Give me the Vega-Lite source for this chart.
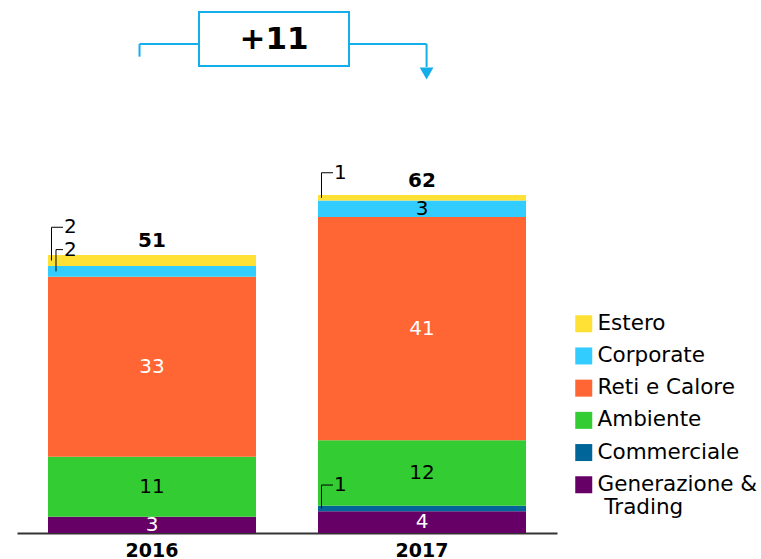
{
  "$schema": "https://vega.github.io/schema/vega-lite/v6.json",
  "width": 540,
  "height": 533,
  "autosize": "none",
  "padding": {"left": 17, "top": 0, "right": 204, "bottom": 26},
  "background": "white",
  "config": {
    "view": {"stroke": null},
    "font": "DejaVu Sans",
    "axis": {"grid": false}
  },
  "datasets": {
    "seg": [
      {"year": "2016", "segment": "Generazione & Trading", "ord": 1, "value": 3},
      {"year": "2016", "segment": "Commerciale", "ord": 2, "value": 0},
      {"year": "2016", "segment": "Ambiente", "ord": 3, "value": 11},
      {"year": "2016", "segment": "Reti e Calore", "ord": 4, "value": 33},
      {"year": "2016", "segment": "Corporate", "ord": 5, "value": 2},
      {"year": "2016", "segment": "Estero", "ord": 6, "value": 2},
      {"year": "2017", "segment": "Generazione & Trading", "ord": 1, "value": 4},
      {"year": "2017", "segment": "Commerciale", "ord": 2, "value": 1},
      {"year": "2017", "segment": "Ambiente", "ord": 3, "value": 12},
      {"year": "2017", "segment": "Reti e Calore", "ord": 4, "value": 41},
      {"year": "2017", "segment": "Corporate", "ord": 5, "value": 3},
      {"year": "2017", "segment": "Estero", "ord": 6, "value": 1}
    ],
    "totals": [
      {"year": "2016", "total": 51},
      {"year": "2017", "total": 62}
    ],
    "callouts": [
      {"year": "2016", "segment": "Estero", "label": "2", "label_y": 56.1, "seg_mid": 50},
      {"year": "2016", "segment": "Corporate", "label": "2", "label_y": 52.0, "seg_mid": 48},
      {"year": "2017", "segment": "Estero", "label": "1", "label_y": 66.1, "seg_mid": 61.5},
      {"year": "2017", "segment": "Commerciale", "label": "1", "label_y": 8.8, "seg_mid": 4.5}
    ],
    "delta": [
      {"from": "2016", "to": "2017", "label": "+11"}
    ]
  },
  "encoding": {
    "x": {
      "field": "year",
      "type": "nominal",
      "scale": {"paddingInner": 0.2296, "paddingOuter": 0.1148},
      "axis": {
        "title": null,
        "labelAngle": 0,
        "labelFont": "DejaVu Sans",
        "labelFontWeight": "bold",
        "labelFontSize": 19,
        "labelColor": "#000000",
        "labelPadding": 8,
        "ticks": false,
        "domainColor": "#333333",
        "domainWidth": 2
      }
    }
  },
  "layer": [
    {
      "data": {"name": "seg"},
      "mark": {"type": "bar", "strokeWidth": 0},
      "encoding": {
        "y": {
          "field": "value",
          "type": "quantitative",
          "stack": "zero",
          "scale": {"domain": [0, 97.8], "nice": false, "zero": true},
          "axis": null
        },
        "order": {"field": "ord", "type": "quantitative"},
        "color": {
          "field": "segment",
          "type": "nominal",
          "scale": {
            "domain": ["Estero", "Corporate", "Reti e Calore", "Ambiente", "Commerciale", "Generazione & Trading"],
            "range": ["#FFE135", "#33CCFF", "#FF6633", "#33CC33", "#006699", "#660066"]
          },
          "legend": {
            "title": null,
            "orient": "none",
            "legendX": 556,
            "legendY": 313,
            "padding": 0,
            "symbolType": "square",
            "symbolSize": 289,
            "symbolStrokeWidth": 0,
            "labelFont": "DejaVu Sans",
            "labelFontSize": 21.5,
            "labelColor": "#000000",
            "labelOffset": 3,
            "labelLimit": 300,
            "rowPadding": 9.2,
            "labelExpr": "datum.label == 'Generazione & Trading' ? ['Generazione &', '\\u200d Trading'] : datum.label"
          }
        }
      }
    },
    {
      "data": {"name": "seg"},
      "transform": [
        {"stack": "value", "groupby": ["year"], "sort": [{"field": "ord", "order": "ascending"}], "as": ["y0", "y1"]},
        {"filter": "datum.value >= 3"},
        {"calculate": "(datum.y0 + datum.y1) / 2", "as": "mid"}
      ],
      "mark": {"type": "text", "fontSize": 20, "baseline": "middle", "align": "center"},
      "encoding": {
        "y": {"field": "mid", "type": "quantitative"},
        "text": {"field": "value", "type": "quantitative"},
        "color": {
          "condition": {"test": "datum.segment == 'Ambiente' || datum.segment == 'Corporate'", "value": "#000000"},
          "value": "#FFFFFF"
        }
      }
    },
    {
      "data": {"name": "totals"},
      "mark": {"type": "text", "fontSize": 20, "fontWeight": "bold", "baseline": "middle", "dy": -14, "color": "#000000"},
      "encoding": {
        "y": {"field": "total", "type": "quantitative"},
        "text": {"field": "total", "type": "quantitative"}
      }
    },
    {
      "data": {"name": "callouts"},
      "transform": [{"filter": "!(datum.year == '2016' && datum.segment == 'Corporate')"}],
      "mark": {"type": "rule", "color": "#000000", "strokeWidth": 1, "xOffset": 3.5},
      "encoding": {
        "x": {"field": "year", "type": "nominal", "bandPosition": 0},
        "y": {"field": "label_y", "type": "quantitative"},
        "y2": {"field": "seg_mid"}
      }
    },
    {
      "data": {"name": "callouts"},
      "transform": [{"filter": "datum.year == '2016' && datum.segment == 'Corporate'"}],
      "mark": {"type": "rule", "color": "#000000", "strokeWidth": 1, "xOffset": 8},
      "encoding": {
        "x": {"field": "year", "type": "nominal", "bandPosition": 0},
        "y": {"field": "label_y", "type": "quantitative"},
        "y2": {"field": "seg_mid"}
      }
    },
    {
      "data": {"name": "callouts"},
      "transform": [{"filter": "!(datum.year == '2016' && datum.segment == 'Corporate')"}],
      "mark": {"type": "rule", "color": "#000000", "strokeWidth": 1, "xOffset": 3.5, "x2Offset": 15},
      "encoding": {
        "x": {"field": "year", "type": "nominal", "bandPosition": 0},
        "x2": {"field": "year", "bandPosition": 0},
        "y": {"field": "label_y", "type": "quantitative"}
      }
    },
    {
      "data": {"name": "callouts"},
      "transform": [{"filter": "datum.year == '2016' && datum.segment == 'Corporate'"}],
      "mark": {"type": "rule", "color": "#000000", "strokeWidth": 1, "xOffset": 8, "x2Offset": 15},
      "encoding": {
        "x": {"field": "year", "type": "nominal", "bandPosition": 0},
        "x2": {"field": "year", "bandPosition": 0},
        "y": {"field": "label_y", "type": "quantitative"}
      }
    },
    {
      "data": {"name": "callouts"},
      "mark": {"type": "text", "fontSize": 20, "align": "left", "baseline": "middle", "xOffset": 16, "color": "#000000"},
      "encoding": {
        "x": {"field": "year", "type": "nominal", "bandPosition": 0},
        "y": {"field": "label_y", "type": "quantitative"},
        "text": {"field": "label"}
      }
    },
    {
      "data": {"name": "delta"},
      "mark": {"type": "rule", "color": "#14AEEA", "strokeWidth": 2},
      "encoding": {
        "x": {"field": "from", "type": "nominal", "bandPosition": 0.44},
        "y": {"datum": 89.72, "type": "quantitative"},
        "y2": {"datum": 87.4}
      }
    },
    {
      "data": {"name": "delta"},
      "mark": {"type": "rule", "color": "#14AEEA", "strokeWidth": 2},
      "encoding": {
        "x": {"field": "from", "type": "nominal", "bandPosition": 0.44},
        "x2": {"field": "from", "bandPosition": 0.726},
        "y": {"datum": 89.72, "type": "quantitative"}
      }
    },
    {
      "data": {"name": "delta"},
      "mark": {"type": "rect", "fill": "#FFFFFF", "stroke": "#14AEEA", "strokeWidth": 2},
      "encoding": {
        "x": {"field": "from", "type": "nominal", "bandPosition": 0.726},
        "x2": {"field": "to", "bandPosition": 0.149},
        "y": {"datum": 95.6, "type": "quantitative"},
        "y2": {"datum": 85.7}
      }
    },
    {
      "data": {"name": "delta"},
      "mark": {"type": "rule", "color": "#14AEEA", "strokeWidth": 2},
      "encoding": {
        "x": {"field": "to", "type": "nominal", "bandPosition": 0.149},
        "x2": {"field": "to", "bandPosition": 0.522},
        "y": {"datum": 89.72, "type": "quantitative"}
      }
    },
    {
      "data": {"name": "delta"},
      "mark": {"type": "rule", "color": "#14AEEA", "strokeWidth": 2},
      "encoding": {
        "x": {"field": "to", "type": "nominal", "bandPosition": 0.522},
        "y": {"datum": 89.72, "type": "quantitative"},
        "y2": {"datum": 85.5}
      }
    },
    {
      "data": {"name": "delta"},
      "mark": {"type": "point", "shape": "triangle-down", "filled": true, "color": "#14AEEA", "size": 190, "opacity": 1},
      "encoding": {
        "x": {"field": "to", "type": "nominal", "bandPosition": 0.522},
        "y": {"datum": 84.3, "type": "quantitative"}
      }
    },
    {
      "data": {"name": "delta"},
      "mark": {"type": "text", "fontSize": 31, "fontWeight": "bold", "baseline": "middle", "align": "center", "color": "#000000"},
      "encoding": {
        "x": {"field": "from", "type": "nominal", "bandPosition": 1.087},
        "y": {"datum": 90.5, "type": "quantitative"},
        "text": {"field": "label"}
      }
    }
  ]
}
